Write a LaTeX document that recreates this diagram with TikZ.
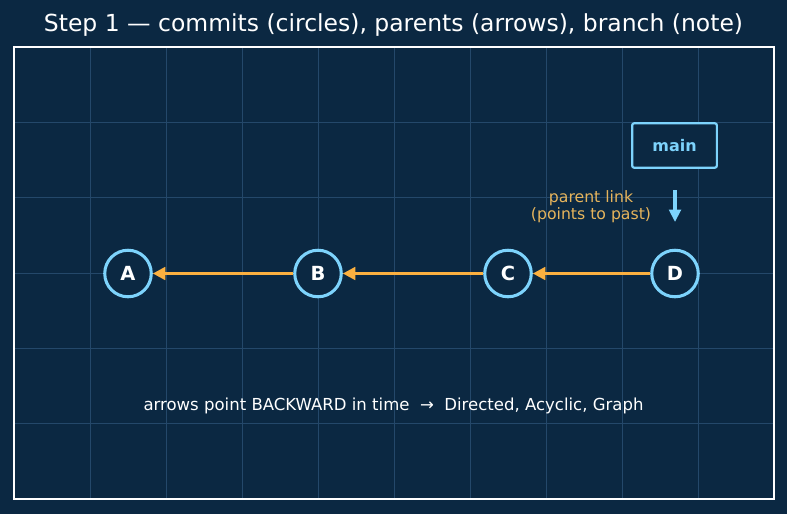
\documentclass[tikz,border=0pt]{standalone}
\usepackage{fontspec}
\setmainfont{DejaVu Sans}
\usetikzlibrary{positioning,arrows.meta}

\definecolor{bgnavy}{HTML}{0B2842}
\definecolor{gridblue}{HTML}{24486A}
\definecolor{skyline}{HTML}{7DD3FC}
\definecolor{amber}{HTML}{FBB040}
\definecolor{amberdim}{HTML}{E6B45C}

\begin{document}
\begin{tikzpicture}[
        x=0.72pt, y=-0.72pt,
        commit/.style={circle, draw=skyline, fill=bgnavy, line width=2.2pt, minimum size=33.5pt, inner sep=0pt, text=white, font=\fontsize{14}{16}\selectfont\bfseries},
        branchbox/.style={draw=skyline, fill=bgnavy, line width=1.6pt, rounded corners=1.5pt, minimum width=61pt, minimum height=32pt, text=skyline, font=\fontsize{11.5}{13}\selectfont\bfseries},
        parent/.style={-{Triangle[length=9pt, width=9pt]}, draw=amber, line width=2.2pt},
        pointer/.style={-{Triangle[length=9pt, width=8.5pt]}, draw=skyline, line width=2.2pt}
    ]

    % Background and canvas
    \useasboundingbox[fill=bgnavy] (0,0) rectangle (787,514);
    \foreach \gx in {90,166,242,318,394,470,546,622,698}
        \draw[gridblue, line width=0.6pt] (\gx,48) -- (\gx,498);
    \foreach \gy in {122.3,197.7,273,348.3,423.7}
        \draw[gridblue, line width=0.6pt] (15,\gy) -- (773,\gy);
    \draw[white, line width=1.5pt] (14,47) rectangle (774,499);

    % Title
    \node[text=white, font=\fontsize{16.9}{20}\selectfont] (title) at (393.5,25) {Step 1 — commits (circles), parents (arrows), branch (note)};

    % Commits
    \node[commit] (A) at (128,273.5) {A};
    \node[commit] (B) at (318,273.5) {B};
    \node[commit] (C) at (508,273.5) {C};
    \node[commit] (D) at (675,273.5) {D};

    % Branch note
    \node[branchbox] (main) at (674.5,145.5) {main};
    \coordinate (ptrtop) at (675,190);
    \coordinate (ptrtip) at (675,222);
    \node[text=amberdim, align=center, font=\fontsize{11.3}{12.3}\selectfont] (linknote) at (591,206.5) {parent link\\(points to past)};

    % Footer
    \node[text=white, font=\fontsize{11.9}{14}\selectfont] (footer) at (393.5,406) {arrows point BACKWARD in time~~→~~Directed, Acyclic, Graph};

    % Arrows
    \draw[parent] (B) -- (A);
    \draw[parent] (C) -- (B);
    \draw[parent] (D) -- (C);
    \draw[pointer] (ptrtop) -- (ptrtip);

\end{tikzpicture}
\end{document}
